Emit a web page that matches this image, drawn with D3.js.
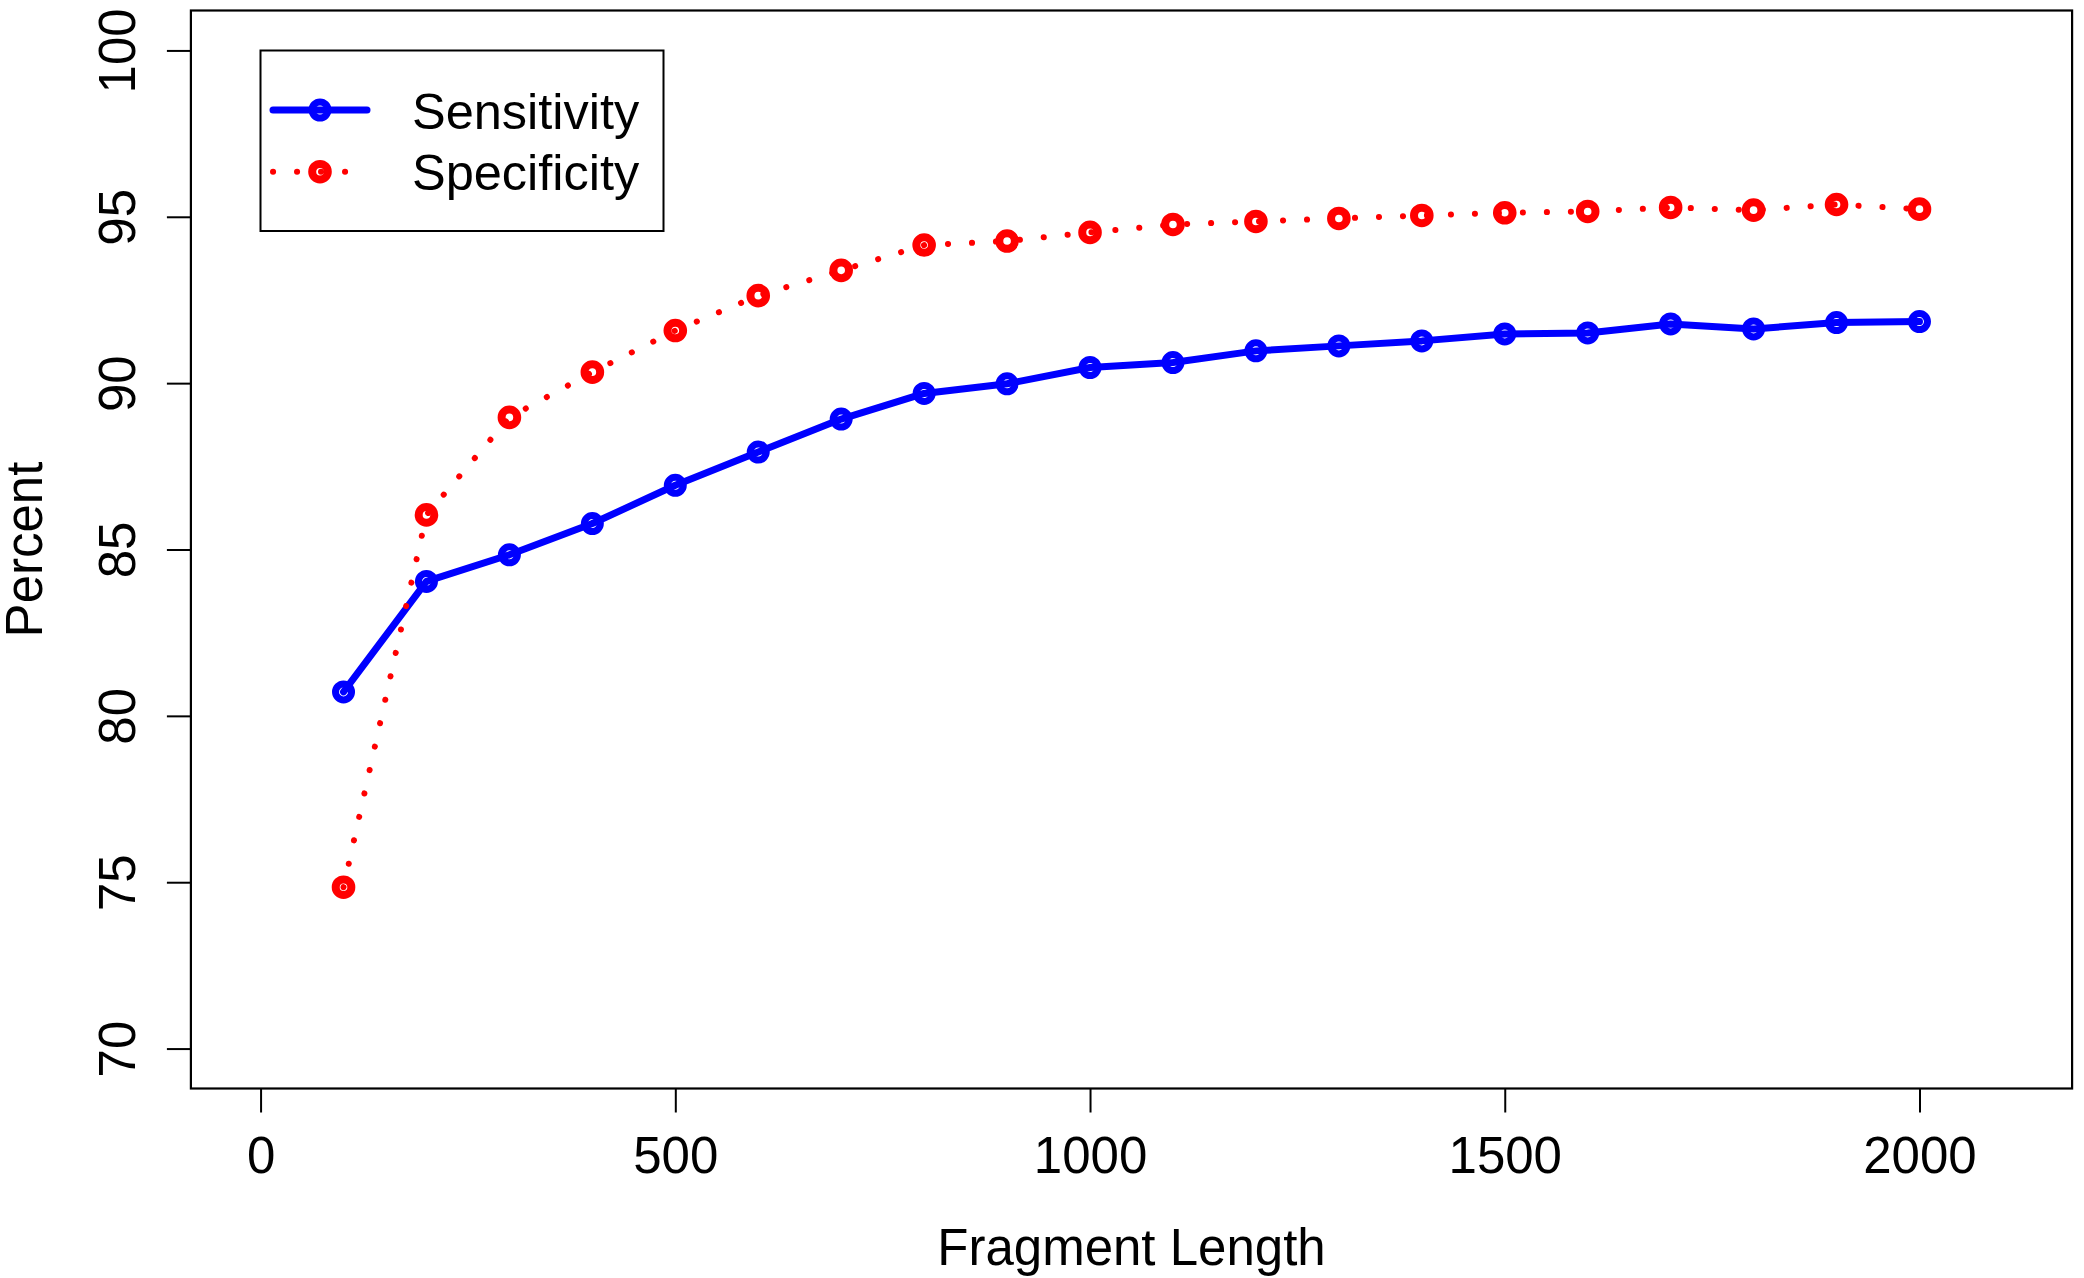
<!DOCTYPE html>
<html>
<head>
<meta charset="utf-8">
<script src="https://cdn.jsdelivr.net/npm/d3@7"></script>
<style>
  body { margin: 0; background: #fff; }
  svg { display: block; }
  text { font-family: "Liberation Sans", Arial, Helvetica, sans-serif; fill: #000; }
</style>
</head>
<body>
<svg id="canvas"></svg>
<script>
// values
let fragmentLengths = [100, 200, 300, 400, 500, 600, 700, 800, 900, 1000,
  1100, 1200, 1300, 1400, 1500, 1600, 1700, 1800, 1900, 2000];
let sensitivity = [80.72, 84.04, 84.84, 85.78, 86.93, 87.93, 88.92, 89.69, 89.98, 90.47,
  90.62, 90.97, 91.12, 91.27, 91.48, 91.51, 91.78, 91.63, 91.82, 91.85];
let specificity = [74.85, 86.04, 88.97, 90.33, 91.58, 92.63, 93.39, 94.15, 94.27, 94.53,
  94.77, 94.86, 94.95, 95.04, 95.12, 95.16, 95.28, 95.2, 95.37, 95.23];
let seriesNames = ["Sensitivity", "Specificity"];
let xTicks = [0, 500, 1000, 1500, 2000];
let yTicks = [70, 75, 80, 85, 90, 95, 100];

let width = 2084;
let height = 1278;
let fontSize = 51;

let canvas = d3.select("#canvas").attr("width", width).attr("height", height);

// R style 4% padding around xlim = c(0, 2100), ylim = c(70, 100)
let xScale = d3.scaleLinear().domain([-84, 2184]).range([190.9, 2072.1]);
let yScale = d3.scaleLinear().domain([68.8, 101.2]).range([1088.5, 10.5]);

let styles = [
  { color: "#0000ff", width: 7, dash: null, cap: "round", r: 8, pw: 7 },
  { color: "#ff0000", width: 6, dash: "0.1,23.9", cap: "round", r: 7.8, pw: 8 }
];

let drawAxes = () => {
  let xAxis = d3.axisBottom(xScale).tickValues(xTicks).tickSize(24).tickPadding(24.5)
    .tickFormat(d3.format("d"));
  let gx = canvas.append("g")
    .attr("id", "x-axis")
    .attr("transform", "translate(0," + yScale.range()[0] + ")")
    .call(xAxis);
  gx.select(".domain").remove();
  gx.selectAll("line").attr("stroke", "#000").attr("stroke-width", 2);
  gx.selectAll("text").attr("font-size", fontSize).attr("font-family", null);

  let yAxis = d3.axisLeft(yScale).tickValues(yTicks).tickSize(24);
  let gy = canvas.append("g")
    .attr("id", "y-axis")
    .attr("transform", "translate(" + xScale.range()[0] + ",0)")
    .call(yAxis);
  gy.select(".domain").remove();
  gy.selectAll("line").attr("stroke", "#000").attr("stroke-width", 2);
  gy.selectAll("text")
    .attr("font-size", fontSize)
    .attr("font-family", null)
    .attr("x", 0)
    .attr("y", -56)
    .attr("dy", null)
    .attr("transform", "rotate(-90)")
    .attr("text-anchor", "middle");

  canvas.append("rect")
    .attr("x", xScale.range()[0])
    .attr("y", yScale.range()[1])
    .attr("width", xScale.range()[1] - xScale.range()[0])
    .attr("height", yScale.range()[0] - yScale.range()[1])
    .attr("fill", "none")
    .attr("stroke", "#000")
    .attr("stroke-width", 2.2);

  canvas.append("text")
    .attr("x", (xScale.range()[0] + xScale.range()[1]) / 2)
    .attr("y", 1265)
    .attr("text-anchor", "middle")
    .attr("font-size", fontSize)
    .text("Fragment Length");

  canvas.append("text")
    .attr("transform", "translate(41.5," + (yScale.range()[0] + yScale.range()[1]) / 2 + ") rotate(-90)")
    .attr("text-anchor", "middle")
    .attr("font-size", fontSize)
    .text("Percent");
};

let drawSeries = () => {
  let line = d3.line()
    .x((d) => xScale(d[0]))
    .y((d) => yScale(d[1]));

  [sensitivity, specificity].forEach((values, i) => {
    let st = styles[i];
    let pts = values.map((v, j) => [fragmentLengths[j], v]);
    let g = canvas.append("g").attr("class", "series");
    g.append("path")
      .datum(pts)
      .attr("d", line)
      .attr("fill", "none")
      .attr("stroke", st.color)
      .attr("stroke-width", st.width)
      .attr("stroke-linecap", st.cap)
      .attr("stroke-linejoin", "round")
      .attr("stroke-dasharray", st.dash);
    g.selectAll("circle")
      .data(pts)
      .enter()
      .append("circle")
      .attr("cx", (d) => xScale(d[0]))
      .attr("cy", (d) => yScale(d[1]))
      .attr("r", st.r)
      .attr("fill", "none")
      .attr("stroke", st.color)
      .attr("stroke-width", st.pw);
  });
};

let drawLegend = () => {
  let legend = canvas.append("g").attr("id", "legend");
  legend.append("rect")
    .attr("x", 260.5)
    .attr("y", 50.5)
    .attr("width", 403)
    .attr("height", 180.5)
    .attr("fill", "#fff")
    .attr("stroke", "#000")
    .attr("stroke-width", 2);

  let rows = [110, 171.7];
  seriesNames.forEach((name, i) => {
    let st = styles[i];
    let y = rows[i];
    legend.append("line")
      .attr("x1", 273).attr("x2", 367)
      .attr("y1", y).attr("y2", y)
      .attr("stroke", st.color)
      .attr("stroke-width", st.width)
      .attr("stroke-linecap", st.cap)
      .attr("stroke-dasharray", st.dash);
    legend.append("circle")
      .attr("cx", 320).attr("cy", y)
      .attr("r", st.r)
      .attr("fill", "none")
      .attr("stroke", st.color)
      .attr("stroke-width", st.pw);
    legend.append("text")
      .attr("x", 412)
      .attr("y", y + 18.5)
      .attr("font-size", 50.5)
      .text(name);
  });
};

drawAxes();
drawSeries();
drawLegend();
</script>
</body>
</html>
